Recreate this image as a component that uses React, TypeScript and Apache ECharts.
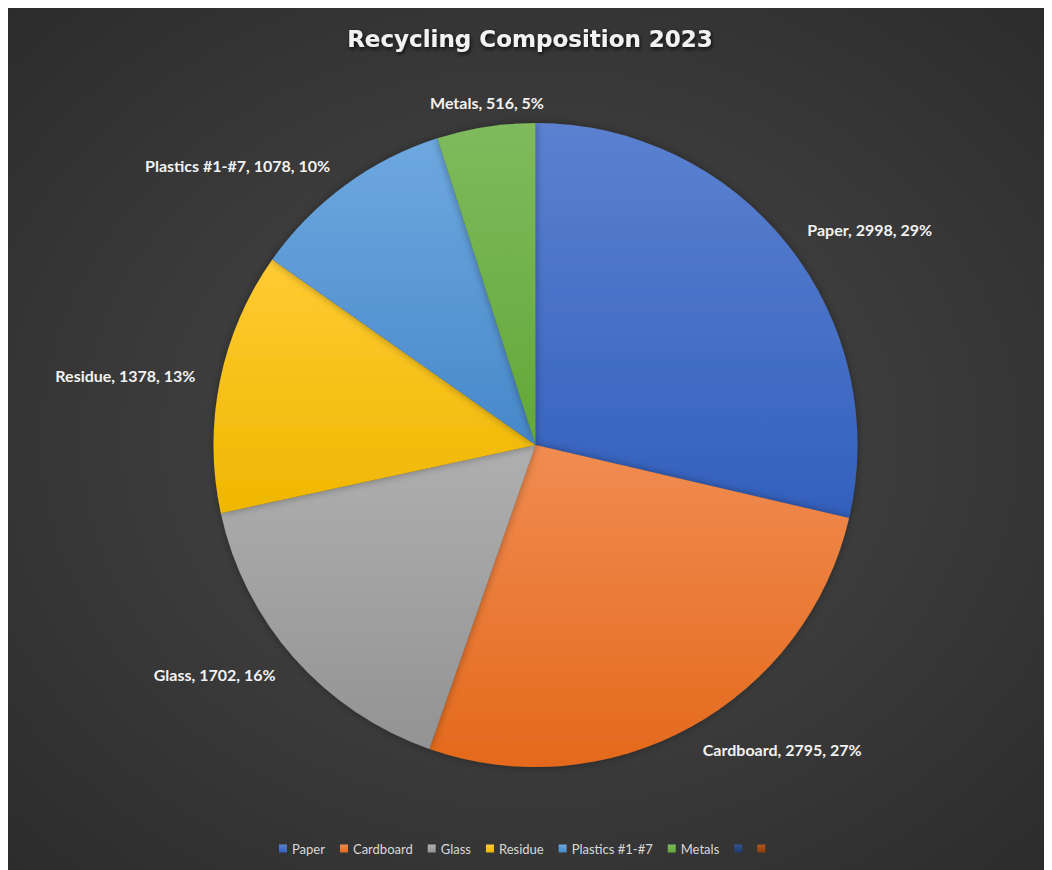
import React, { useEffect, useRef } from "react";
import * as echarts from "echarts";

const categories = ["Paper", "Cardboard", "Glass", "Residue", "Plastics #1-#7", "Metals", "_7", "_8"];
const values = [2998, 2795, 1702, 1378, 1078, 516, 0, 0];
const topColors = ["#5b81d0", "#f18c52", "#afafaf", "#ffcb33", "#6ea8df", "#7fba5d", "#2f5596", "#b35617"];
const bottomColors = ["#3360bd", "#e4691b", "#939393", "#efb700", "#4788ca", "#62a838", "#213c6b", "#8c3e0b"];

export default function App() {
  const ref = useRef<HTMLDivElement>(null);
  useEffect(() => {
    document.documentElement.style.overflow = "hidden";
    const chart = echarts.init(ref.current!, null, { renderer: "svg" });
    const total = values.reduce((a, b) => a + b, 0);
    const data = categories.map((name, i) => {
      const isBlank = name.startsWith("_");
      return {
        name,
        value: values[i],
        itemStyle: {
          color: new echarts.graphic.LinearGradient(0, 0, 0, 1, [
            { offset: 0, color: topColors[i] },
            { offset: 1, color: bottomColors[i] },
          ]),
        },
        label: { show: !isBlank },
        labelLine: { show: false },
      };
    });
    chart.setOption({
      animation: false,
      backgroundColor: new echarts.graphic.RadialGradient(0.5, 0.5, 0.75, [
        { offset: 0, color: "#4a4a4a" },
        { offset: 1, color: "#2a2a2a" },
      ]),
      title: {
        text: "Recycling Composition 2023",
        left: "center",
        top: 14,
        textStyle: {
          color: "#f2f2f2",
          fontFamily: "DejaVu Sans",
          fontWeight: "bold",
          fontSize: 23,
          textShadowColor: "rgba(0,0,0,0.8)",
          textShadowBlur: 4,
          textShadowOffsetX: 1,
          textShadowOffsetY: 2,
        },
      },
      legend: {
        bottom: 10,
        left: 266,
        icon: "rect",
        itemWidth: 8,
        itemHeight: 8,
        itemGap: 15,
        data: categories,
        formatter: (name: string) => (name.startsWith("_") ? "" : name),
        textStyle: { color: "#d9d9d9", fontFamily: "Lato", fontSize: 13 },
        selectedMode: false,
      },
      series: [
        {
          type: "pie",
          center: [527.5, 437],
          radius: 322,
          startAngle: 90,
          clockwise: true,
          avoidLabelOverlap: false,
          stillShowZeroSum: true,
          itemStyle: {
            borderWidth: 0,
            shadowBlur: 8,
            shadowColor: "rgba(0,0,0,0.35)",
          },
          label: {
            position: "outside",
            distanceToLabelLine: 0,
            color: "#f2f2f2",
            fontFamily: "Lato",
            fontWeight: "bold",
            fontSize: 16,
            formatter: (p: any) => `${p.name}, ${p.value}, ${Math.round((p.value / total) * 100)}%`,
          },
          labelLine: { show: false, length: 25, length2: 0 },
          labelLayout: (p: any) => (p.dataIndex === 5 ? { align: "center", dx: 5 } : {}),
          data,
        },
      ],
    });
    return () => chart.dispose();
  }, []);
  return <div ref={ref} style={{ width: 1044, height: 862 }} />;
}
